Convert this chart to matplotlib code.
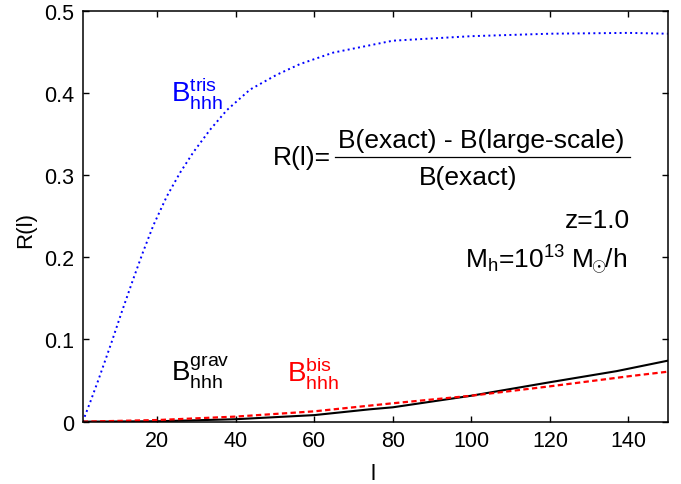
import matplotlib
matplotlib.use("Agg")
import matplotlib.pyplot as plt

plt.rcParams['font.family'] = ['Liberation Sans', 'DejaVu Sans']
plt.rcParams['mathtext.fontset'] = 'custom'
plt.rcParams['mathtext.rm'] = 'Liberation Sans'
plt.rcParams['mathtext.it'] = 'Liberation Sans:italic'
plt.rcParams['mathtext.bf'] = 'Liberation Sans:bold'

# R(l)
l_tris = [1, 3, 5, 8.3, 10.9, 13.9, 16.4, 19, 22.4, 25.8, 29.2, 33.4, 37.7, 43.6,
          50.4, 56.3, 64.8, 80, 100, 120, 140, 150]
r_tris = [0.0, 0.025, 0.051, 0.096, 0.133, 0.174, 0.207, 0.239, 0.274, 0.303, 0.328,
          0.355, 0.379, 0.404, 0.422, 0.435, 0.449, 0.4635, 0.469, 0.472, 0.473, 0.472]

l_grav = [1, 20, 40, 60, 74, 80, 100, 120, 137, 150]
r_grav = [0.0, 0.0005, 0.003, 0.008, 0.015, 0.0175, 0.0316, 0.048, 0.0615, 0.0742]

l_bis = [1, 20, 40, 60, 74, 80, 100, 120, 140, 150]
r_bis = [0.0, 0.002, 0.0062, 0.0126, 0.0195, 0.0224, 0.0316, 0.043, 0.0552, 0.0608]

xticks = [20, 40, 60, 80, 100, 120, 140]
yticks = [0, 0.1, 0.2, 0.3, 0.4, 0.5]
ytick_labels = ['0', '0.1', '0.2', '0.3', '0.4', '0.5']

fig = plt.figure(figsize=(6.81, 4.85), dpi=100)
ax = fig.add_axes([0.1215, 0.1285, 0.859, 0.8474])

ax.plot(l_tris, r_tris, color='blue', ls=(0, (1, 1.7)), lw=1.4)
ax.plot(l_grav, r_grav, color='black', lw=1.5)
ax.plot(l_bis, r_bis, color='red', ls=(0, (2.4, 1.5)), lw=1.6)

ax.set_xlim(1, 150)
ax.set_ylim(0, 0.5)
ax.set_xticks(xticks)
ax.set_yticks(yticks)
ax.set_yticklabels(ytick_labels)
ax.tick_params(direction='in', length=4.5, width=1, top=True, right=True,
               labelsize=15.5, pad=6)
for s in ax.spines.values():
    s.set_linewidth(1.1)

ax.set_xlabel('l', fontsize=16)
ax.set_ylabel('R(l)', fontsize=16)
ax.xaxis.set_label_coords(0.497, -0.1)
ax.yaxis.set_label_coords(-0.079, 0.47)

fs = 19
ax.text(23.5, 0.3905, r'$\mathrm{B^{tris}_{hhh}}$', color='blue', fontsize=20, va='baseline')
ax.text(23.5, 0.0499, r'$\mathrm{B^{grav}_{hhh}}$', color='black', fontsize=20, va='baseline')
ax.text(53.1, 0.0499, r'$\mathrm{B^{bis}_{hhh}}$', color='red', fontsize=20, va='baseline')

# fraction written out by hand
ax.text(49.5, 0.3135, 'R(l)=', fontsize=fs, va='baseline')
ax.text(102.5, 0.334, 'B(exact) - B(large-scale)', fontsize=fs, va='baseline', ha='center')
ax.plot([65.3, 140.3], [0.3226, 0.3226], color='black', lw=0.9)
ax.text(99.1, 0.289, 'B(exact)', fontsize=fs, va='baseline', ha='center')

ax.text(140.5, 0.2369, 'z=1.0', fontsize=fs, va='baseline', ha='right')
ax.text(139.8, 0.188, r'M$_\mathrm{h}$=10$^{13}$ M$_{\!\!\odot\!\!}$/h', fontsize=fs,
        va='baseline', ha='right')

fig.savefig('out.png', dpi=100)
